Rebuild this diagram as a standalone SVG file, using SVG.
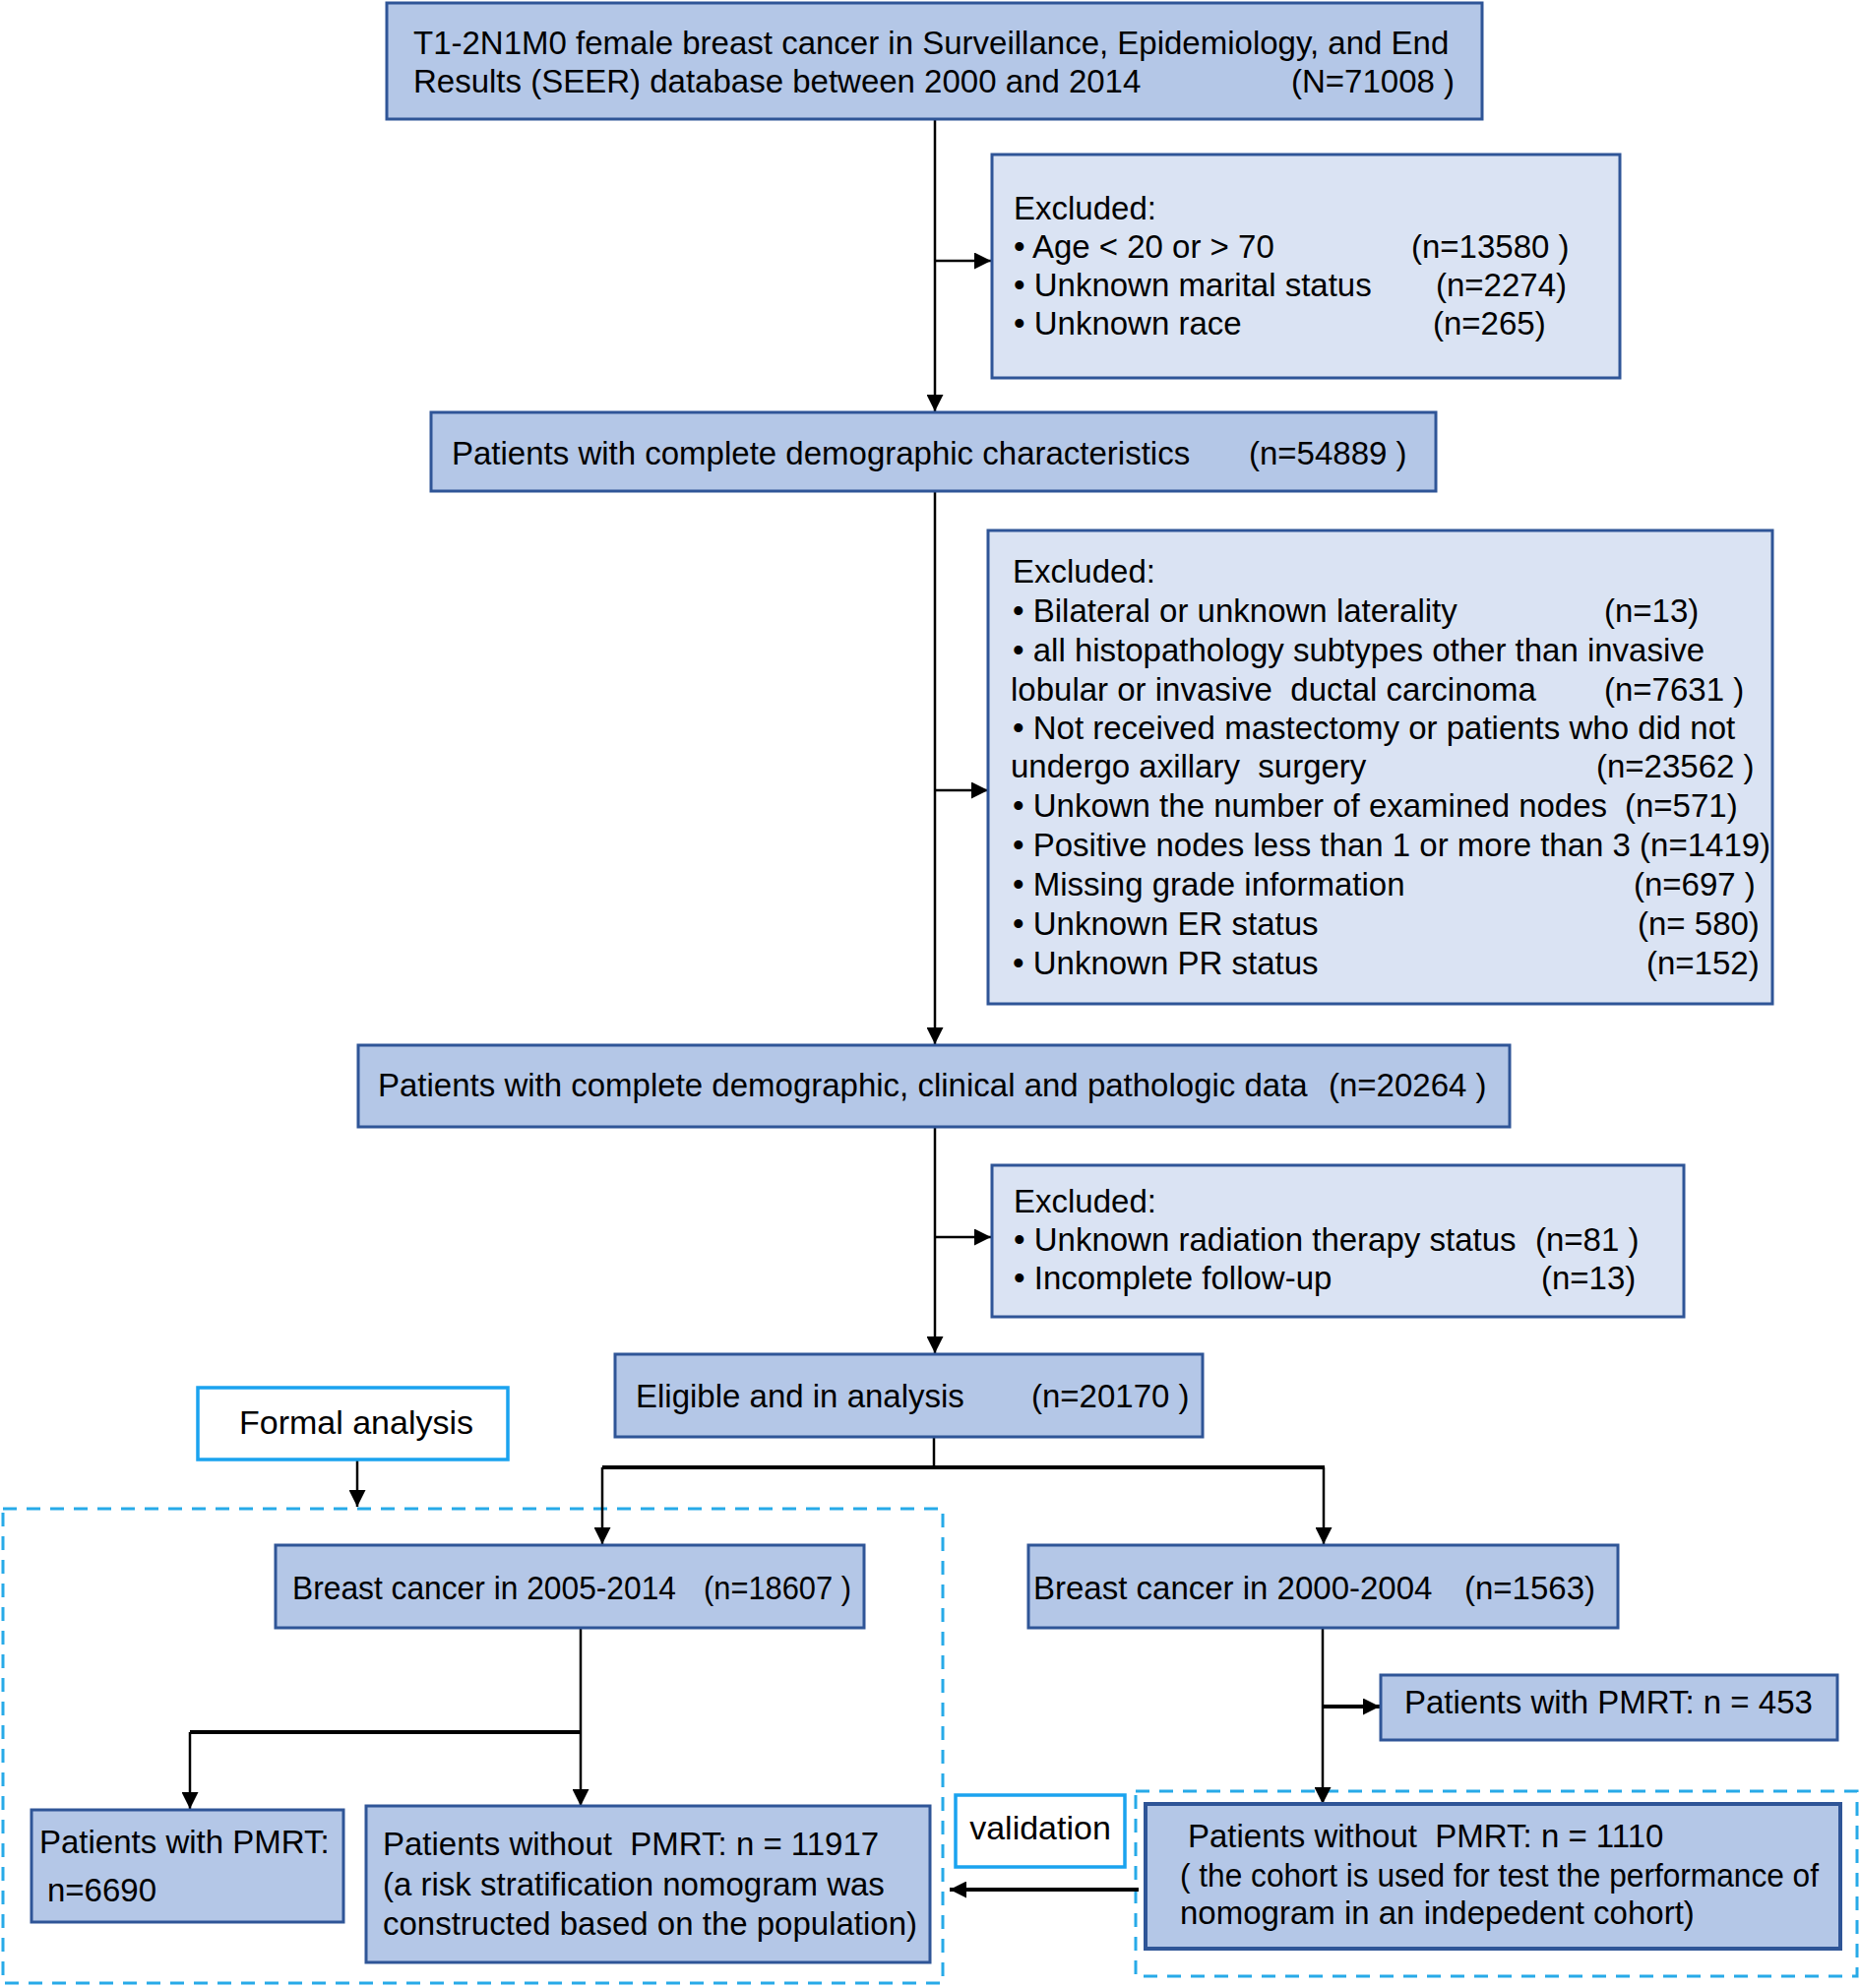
<svg xmlns="http://www.w3.org/2000/svg" width="1890" height="2020" viewBox="0 0 1890 2020">
<defs>
<style>
.main{fill:#b4c7e7;stroke:#2f5597;stroke-width:3}
.excl{fill:#dae3f3;stroke:#2f5597;stroke-width:3}
.lbl{fill:#ffffff;stroke:#1aa3ef;stroke-width:3.5}
.dash{fill:none;stroke:#27aae8;stroke-width:3;stroke-dasharray:14 10}
.t{font-family:"Liberation Sans",Arial,sans-serif;font-size:33px;fill:#000;white-space:pre}
.c{stroke:#000;stroke-width:2.5;fill:none}
.cb{stroke:#000;stroke-width:4;fill:none}
</style>
<marker id="ah" viewBox="0 0 10 10" refX="10" refY="5" markerWidth="18" markerHeight="17" markerUnits="userSpaceOnUse" orient="auto">
<path d="M0,0 L10,5 L0,10 z" fill="#000"/>
</marker>
</defs>
<rect width="1890" height="2020" fill="#ffffff"/>

<g id="dashed-regions">
<rect class="dash" x="3" y="1533" width="955" height="482"/>
<rect class="dash" x="1154" y="1820" width="733" height="188"/>
</g>

<g id="connectors">
<line class="c" x1="950" y1="121" x2="950" y2="418" marker-end="url(#ah)"/>
<line class="c" x1="950" y1="265" x2="1007" y2="265" marker-end="url(#ah)"/>
<line class="c" x1="950" y1="498" x2="950" y2="1061" marker-end="url(#ah)"/>
<line class="c" x1="950" y1="803" x2="1004" y2="803" marker-end="url(#ah)"/>
<line class="c" x1="950" y1="1144" x2="950" y2="1375" marker-end="url(#ah)"/>
<line class="c" x1="950" y1="1257" x2="1007" y2="1257" marker-end="url(#ah)"/>
<line class="c" x1="949" y1="1459" x2="949" y2="1491"/>
<line class="cb" x1="612" y1="1491" x2="1346" y2="1491"/>
<line class="c" x1="612" y1="1491" x2="612" y2="1569" marker-end="url(#ah)"/>
<line class="c" x1="1345" y1="1491" x2="1345" y2="1569" marker-end="url(#ah)"/>
<line class="c" x1="363" y1="1484" x2="363" y2="1531" marker-end="url(#ah)"/>
<line class="c" x1="590" y1="1655" x2="590" y2="1835" marker-end="url(#ah)"/>
<line class="cb" x1="193" y1="1760" x2="590" y2="1760"/>
<line class="c" x1="193" y1="1760" x2="193" y2="1838" marker-end="url(#ah)"/>
<line class="c" x1="1344" y1="1653" x2="1344" y2="1833" marker-end="url(#ah)"/>
<line class="cb" x1="1344" y1="1734" x2="1402" y2="1734" marker-end="url(#ah)"/>
<line class="cb" x1="1157" y1="1920" x2="965" y2="1920" marker-end="url(#ah)"/>
</g>

<g id="n-seer">
<rect class="main" x="393" y="3" width="1113" height="118"/>
<text class="t" x="420" y="55">T1-2N1M0 female breast cancer in Surveillance, Epidemiology, and End</text>
<text class="t" x="420" y="94">Results (SEER) database between 2000 and 2014<tspan x="1312">(N=71008 )</tspan></text>
</g>

<g id="n-excl1">
<rect class="excl" x="1008" y="157" width="638" height="227"/>
<text class="t" x="1030" y="223">Excluded:</text>
<text class="t" x="1030" y="262">• Age &lt; 20 or &gt; 70<tspan x="1434">(n=13580 )</tspan></text>
<text class="t" x="1030" y="301">• Unknown marital status<tspan x="1459">(n=2274)</tspan></text>
<text class="t" x="1030" y="340">• Unknown race<tspan x="1456">(n=265)</tspan></text>
</g>

<g id="n-demo">
<rect class="main" x="438" y="419" width="1021" height="80"/>
<text class="t" x="459" y="472">Patients with complete demographic characteristics<tspan x="1269">(n=54889 )</tspan></text>
</g>

<g id="n-excl2">
<rect class="excl" x="1004" y="539" width="797" height="481"/>
<text class="t" x="1029" y="592">Excluded:</text>
<text class="t" x="1029" y="632">• Bilateral or unknown laterality<tspan x="1630">(n=13)</tspan></text>
<text class="t" x="1029" y="672">• all histopathology subtypes other than invasive</text>
<text class="t" x="1027" y="712">lobular or invasive  ductal carcinoma<tspan x="1630">(n=7631 )</tspan></text>
<text class="t" x="1029" y="751">• Not received mastectomy or patients who did not</text>
<text class="t" x="1027" y="790">undergo axillary  surgery<tspan x="1622">(n=23562 )</tspan></text>
<text class="t" x="1029" y="830">• Unkown the number of examined nodes<tspan x="1651">(n=571)</tspan></text>
<text class="t" x="1029" y="870">• Positive nodes less than 1 or more than 3 (n=1419)</text>
<text class="t" x="1029" y="910">• Missing grade information<tspan x="1660">(n=697 )</tspan></text>
<text class="t" x="1029" y="950">• Unknown ER status<tspan x="1664">(n= 580)</tspan></text>
<text class="t" x="1029" y="990">• Unknown PR status<tspan x="1673">(n=152)</tspan></text>
</g>

<g id="n-clin">
<rect class="main" x="364" y="1062" width="1170" height="83"/>
<text class="t" x="384" y="1114">Patients with complete demographic, clinical and pathologic data<tspan x="1350">(n=20264 )</tspan></text>
</g>

<g id="n-excl3">
<rect class="excl" x="1008" y="1184" width="703" height="154"/>
<text class="t" x="1030" y="1232">Excluded:</text>
<text class="t" x="1030" y="1271">• Unknown radiation therapy status<tspan x="1560">(n=81 )</tspan></text>
<text class="t" x="1030" y="1310">• Incomplete follow-up<tspan x="1566">(n=13)</tspan></text>
</g>

<g id="n-eligible">
<rect class="main" x="625" y="1376" width="597" height="84"/>
<text class="t" x="646" y="1430">Eligible and in analysis<tspan x="1048">(n=20170 )</tspan></text>
</g>

<g id="n-formal">
<rect class="lbl" x="201" y="1410" width="315" height="73"/>
<text class="t" x="362" y="1457" text-anchor="middle" style="font-size:34px">Formal analysis</text>
</g>

<g id="n-2005">
<rect class="main" x="280" y="1570" width="598" height="84"/>
<text class="t" x="297" y="1625" textLength="390" lengthAdjust="spacingAndGlyphs">Breast cancer in 2005-2014</text>
<text class="t" x="715" y="1625" textLength="150" lengthAdjust="spacingAndGlyphs">(n=18607 )</text>
</g>

<g id="n-2000">
<rect class="main" x="1045" y="1570" width="599" height="84"/>
<text class="t" x="1050" y="1625">Breast cancer in 2000-2004<tspan x="1488">(n=1563)</tspan></text>
</g>

<g id="n-pmrt6690">
<rect class="main" x="32" y="1839" width="317" height="114"/>
<text class="t" x="40" y="1883">Patients with PMRT:</text>
<text class="t" x="48" y="1932">n=6690</text>
</g>

<g id="n-nopmrt11917">
<rect class="main" x="372" y="1835" width="573" height="159"/>
<text class="t" x="389" y="1885">Patients without  PMRT: n = 11917</text>
<text class="t" x="389" y="1926">(a risk stratification nomogram was</text>
<text class="t" x="389" y="1966">constructed based on the population)</text>
</g>

<g id="n-pmrt453">
<rect class="main" x="1403" y="1702" width="464" height="66"/>
<text class="t" x="1427" y="1741">Patients with PMRT: n = 453</text>
</g>

<g id="n-validation">
<rect class="lbl" x="971" y="1824" width="172" height="73"/>
<text class="t" x="1057" y="1869" text-anchor="middle" style="font-size:34px">validation</text>
</g>

<g id="n-nopmrt1110">
<rect class="main" x="1164" y="1833" width="706" height="147" style="stroke-width:4"/>
<text class="t" x="1207" y="1877">Patients without  PMRT: n = 1110</text>
<text class="t" x="1199" y="1917" textLength="649" lengthAdjust="spacingAndGlyphs">( the cohort is used for test the performance of</text>
<text class="t" x="1199" y="1955">nomogram in an indepedent cohort)</text>
</g>
</svg>
